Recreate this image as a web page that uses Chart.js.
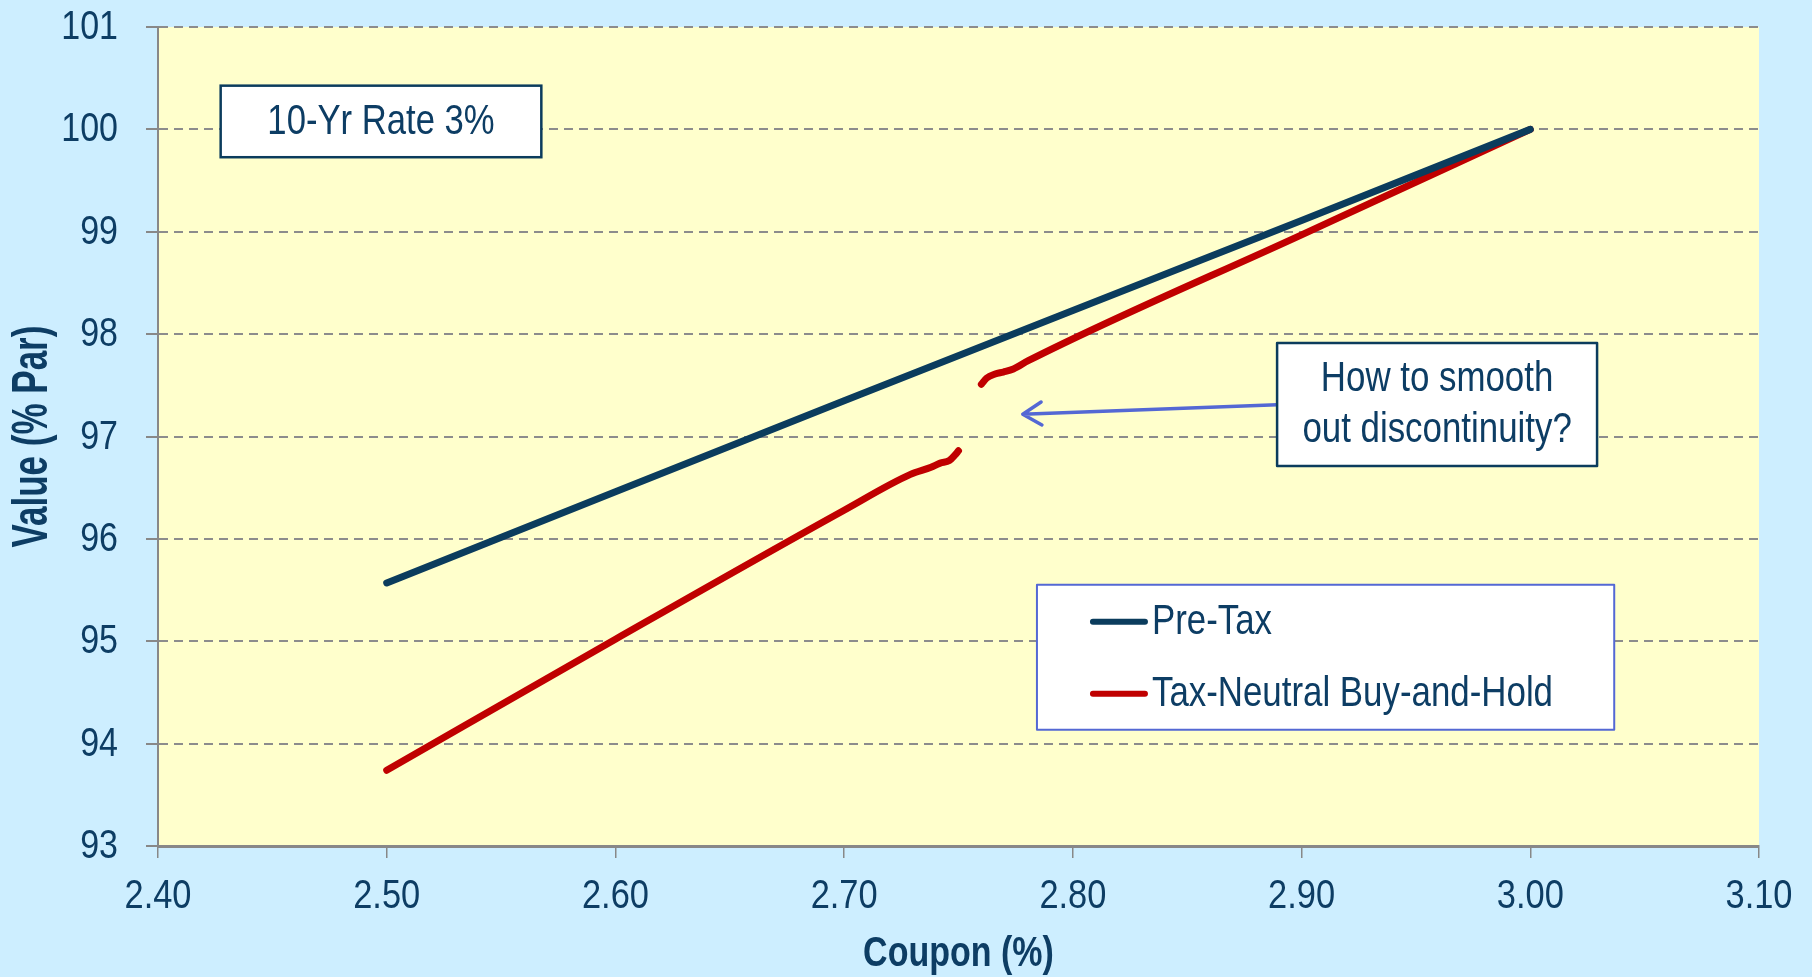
<!DOCTYPE html>
<html>
<head>
<meta charset="utf-8">
<title>Coupon vs Value</title>
<script src="https://cdn.jsdelivr.net/npm/chart.js@4/dist/chart.umd.min.js"></script>
<style>
	html, body { margin: 0; padding: 0; background: #cdeeff; }
	#wrap { width: 1812px; height: 977px; }
</style>
</head>
<body>
<div id="wrap"><canvas id="chart" width="1812" height="977"></canvas></div>
<script>
// values
const preTaxCoupon = [2.50, 2.60, 2.70, 2.80, 2.90, 3.00];
const preTaxValue = [95.57, 96.46, 97.35, 98.23, 99.11, 100.00];

const holdLowCoupon = [2.50, 2.60, 2.70, 2.729, 2.738, 2.742, 2.746, 2.7485, 2.750];
const holdLowValue = [93.74, 95.02, 96.28, 96.63, 96.70, 96.74, 96.765, 96.82, 96.86];

const holdHighCoupon = [2.760, 2.7623, 2.766, 2.7696, 2.774, 2.7805, 2.90, 3.00];
const holdHighValue = [97.51, 97.57, 97.61, 97.63, 97.66, 97.74, 98.97, 100.00];

const seriesLabels = ["Pre-Tax", "Tax-Neutral Buy-and-Hold"];
const seriesColors = ["#0b3c5d", "#c00000"];

const xTicks = [2.40, 2.50, 2.60, 2.70, 2.80, 2.90, 3.00, 3.10];
const yTicks = [93, 94, 95, 96, 97, 98, 99, 100, 101];

const xTitle = "Coupon (%)";
const yTitle = "Value (% Par)";
const rateNote = "10-Yr Rate 3%";
const questionNote = ["How to smooth", "out discontinuity?"];

const FONT = '"Liberation Sans", Arial, sans-serif';
const TEXT = "#0d3d64";

const toPoints = (xs, ys) => xs.map((x, i) => ({ x, y: ys[i] }));

const holdPoints = [
	...toPoints(holdLowCoupon, holdLowValue),
	{ x: 2.755, y: null },
	...toPoints(holdHighCoupon, holdHighValue),
];

// the reference uses a narrow face, so squeeze Liberation Sans sideways
function narrowText(ctx, text, x, y, opts) {
	const { size, weight = "normal", align = "center", squeeze = 0.83, rotate = 0 } = opts;
	ctx.save();
	ctx.translate(x, y);
	if (rotate) ctx.rotate(rotate);
	ctx.scale(squeeze, 1);
	ctx.font = `${weight} ${size}px ${FONT}`;
	ctx.fillStyle = TEXT;
	ctx.textAlign = align;
	ctx.textBaseline = "middle";
	ctx.fillText(text, 0, 0);
	ctx.restore();
}

const background = {
	id: "background",
	beforeDraw(chart) {
		const { ctx, chartArea: a } = chart;
		ctx.save();
		ctx.fillStyle = "#cdeeff";
		ctx.fillRect(0, 0, chart.width, chart.height);
		ctx.fillStyle = "#ffffcc";
		ctx.fillRect(a.left, a.top, a.right - a.left, a.bottom - a.top);
		ctx.restore();
	},
};

const axisText = {
	id: "axisText",
	afterDraw(chart) {
		const { ctx, scales, chartArea: a } = chart;
		scales.x.ticks.forEach((t) => {
			narrowText(ctx, t.value.toFixed(2), scales.x.getPixelForValue(t.value), 897,
				{ size: 40, squeeze: 0.86 });
		});
		scales.y.ticks.forEach((t) => {
			narrowText(ctx, String(t.value), 118, scales.y.getPixelForValue(t.value) + 1,
				{ size: 40, squeeze: 0.85, align: "right" });
		});
		narrowText(ctx, xTitle, (a.left + a.right) / 2, 954, { size: 42, weight: "bold", squeeze: 0.81 });
		narrowText(ctx, yTitle, 33, (a.top + a.bottom) / 2, { size: 50, weight: "bold", squeeze: 0.7, rotate: -Math.PI / 2 });
	},
};

const notes = {
	id: "notes",
	afterDatasetsDraw(chart) {
		const { ctx, scales } = chart;
		const px = (v) => scales.x.getPixelForValue(v);
		const py = (v) => scales.y.getPixelForValue(v);

		const box = (x0, y0, x1, y1, stroke, width) => {
			const l = px(x0), t = py(y0), r = px(x1), b = py(y1);
			ctx.fillStyle = "#ffffff";
			ctx.fillRect(l, t, r - l, b - t);
			ctx.lineWidth = width;
			ctx.strokeStyle = stroke;
			ctx.strokeRect(l, t, r - l, b - t);
			return { l, t, r, b };
		};

		ctx.save();

		// rate box
		const rb = box(2.4274, 100.427, 2.5676, 99.728, "#0b3c5d", 2.5);
		narrowText(ctx, rateNote, (rb.l + rb.r) / 2, (rb.t + rb.b) / 2 + 1, { size: 42, squeeze: 0.825 });

		// arrow to the gap
		const sx = px(2.8893), sy = py(97.309);
		const tx = px(2.7781), ty = py(97.218);
		const ang = Math.atan2(sy - ty, sx - tx);
		ctx.strokeStyle = "#5468d4";
		ctx.lineWidth = 3.5;
		ctx.lineCap = "round";
		ctx.lineJoin = "round";
		ctx.beginPath();
		ctx.moveTo(sx, sy);
		ctx.lineTo(tx, ty);
		ctx.moveTo(tx + 22 * Math.cos(ang - 0.55), ty + 22 * Math.sin(ang - 0.55));
		ctx.lineTo(tx, ty);
		ctx.lineTo(tx + 22 * Math.cos(ang + 0.55), ty + 22 * Math.sin(ang + 0.55));
		ctx.stroke();

		// question box
		const qb = box(2.8893, 97.914, 3.0292, 96.713, "#0b3c5d", 2.5);
		const qc = (qb.l + qb.r) / 2;
		narrowText(ctx, questionNote[0], qc, py(97.553), { size: 42 });
		narrowText(ctx, questionNote[1], qc, py(97.064), { size: 42 });

		// legend
		const lb = box(2.7843, 95.551, 3.0367, 94.135, "#5468d4", 2);
		chart.data.datasets.forEach((ds, i) => {
			const y = lb.t + 37 + i * 72;
			ctx.strokeStyle = ds.borderColor;
			ctx.lineWidth = 6;
			ctx.lineCap = "round";
			ctx.beginPath();
			ctx.moveTo(lb.l + 56, y);
			ctx.lineTo(lb.l + 108, y);
			ctx.stroke();
			narrowText(ctx, ds.label, lb.l + 115, y + 1, { size: 42, align: "left" });
		});
		ctx.restore();
	},
};

new Chart(document.getElementById("chart").getContext("2d"), {
	type: "line",
	data: {
		datasets: [
			{
				label: seriesLabels[0],
				data: toPoints(preTaxCoupon, preTaxValue),
				borderColor: seriesColors[0],
				backgroundColor: seriesColors[0],
				borderWidth: 7,
				borderCapStyle: "round",
				pointRadius: 0,
			},
			{
				label: seriesLabels[1],
				data: holdPoints,
				borderColor: seriesColors[1],
				backgroundColor: seriesColors[1],
				borderWidth: 7,
				borderCapStyle: "round",
				borderJoinStyle: "round",
				cubicInterpolationMode: "monotone",
				spanGaps: false,
				pointRadius: 0,
			},
		],
	},
	options: {
		responsive: false,
		animation: false,
		layout: { padding: { top: 27, right: 53, left: 0, bottom: 0 } },
		plugins: {
			legend: { display: false },
			tooltip: { enabled: false },
		},
		scales: {
			x: {
				type: "linear",
				min: xTicks[0],
				max: xTicks[xTicks.length - 1],
				afterBuildTicks: (s) => { s.ticks = xTicks.map((v) => ({ value: v })); },
				afterFit: (s) => { s.height = 131; s.paddingLeft = 0; s.paddingRight = 0; },
				ticks: { display: false },
				grid: {
					drawOnChartArea: false,
					drawTicks: true,
					tickLength: 12,
					color: "#888888",
					lineWidth: 1.5,
				},
				border: { display: true, color: "#888888", width: 3 },
			},
			y: {
				type: "linear",
				min: yTicks[0],
				max: yTicks[yTicks.length - 1],
				afterBuildTicks: (s) => { s.ticks = yTicks.map((v) => ({ value: v })); },
				afterFit: (s) => { s.width = 158; s.paddingTop = 0; s.paddingBottom = 0; },
				ticks: { display: false },
				grid: {
					color: "#8c8c8c",
					lineWidth: 2,
					tickLength: 12,
					tickColor: "#888888",
					tickBorderDash: [],
				},
				border: { display: true, color: "#888888", width: 2, dash: [9, 6] },
			},
		},
	},
	plugins: [background, notes, axisText],
});
</script>
</body>
</html>
